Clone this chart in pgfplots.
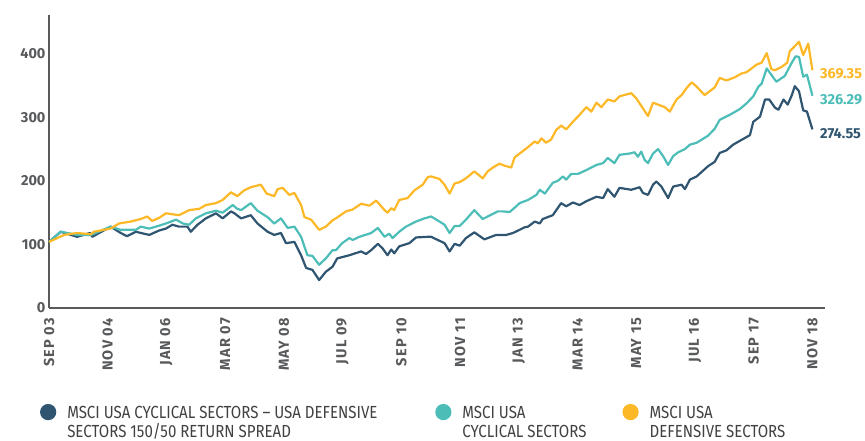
\documentclass[border=0pt]{standalone}
\usepackage{pgfplots}
\pgfplotsset{compat=1.18}
\usepackage{fontspec}
\setmainfont{Fira Sans}
\newfontfamily\legfont[FakeStretch=0.86]{Fira Sans}
\definecolor{cdark}{HTML}{2F5571}
\definecolor{cteal}{HTML}{4DBDB8}
\definecolor{cyellow}{HTML}{FDB827}
\definecolor{axgray}{HTML}{595A5C}
\definecolor{tickgray}{HTML}{58595B}
\definecolor{legtext}{HTML}{414042}
\begin{document}
\begin{tikzpicture}
\path (0pt,0pt) rectangle (865pt,441pt);
\begin{axis}[
  at={(49pt,133pt)}, anchor=south west,
  scale only axis, width=776pt, height=293pt,
  xmin=0, xmax=185, ymin=0, ymax=461,
  axis x line=bottom, axis y line=left,
  axis line style={-, line width=1.8pt, color=axgray},
  xtick={0,14,...,182},
  xticklabels={SEP 03,NOV 04,JAN 06,MAR 07,MAY 08,JUL 09,SEP 10,NOV 11,JAN 13,MAR 14,MAY 15,JUL 16,SEP 17,NOV 18},
  ytick={0,100,...,400},
  major tick length=0pt,
  /pgf/number format/assume math mode=true,
  tick label style={font=\fontsize{14.5}{16}\selectfont\bfseries, text=tickgray},
  x tick label style={rotate=90, anchor=east, inner xsep=10pt, font=\fontsize{14.5}{16}\selectfont\bfseries\addfontfeatures{LetterSpace=8}},
  clip=false,
  legend columns=3,
  legend image code/.code={\fill (7pt,6pt) circle (7pt);},
  legend style={at={(axis description cs:-0.0115,-0.327)}, anchor=north west, draw=none, fill=none, inner sep=0pt, outer sep=0pt,
    font=\legfont\fontsize{17.5}{19.5}\selectfont, text=legtext,
    cells={anchor=base west, inner sep=0pt},
    /tikz/every odd column/.append style={column sep=9pt},
    /tikz/every even column/.append style={column sep=0pt}},
]
\addplot[color=cdark, line width=2.2pt, line join=round] coordinates {
(0,104) (2.8,120) (6.7,112) (9.8,118) (10.3,112) (14.7,128) (17.1,118) (18.6,113) (20.7,120) (21.9,118) (23.9,115) (26.3,122) (27.9,125) (29.4,131) (31,128) (33,128) (33.8,120) (35.4,131) (37.4,141) (39.8,149) (41.4,141) (43.4,152) (44.2,149) (45.8,141) (48.1,146) (49.7,133) (52.1,120) (53.7,115) (55.3,118) (56.5,102) (58.5,104) (60.1,83) (61.3,63) (62.8,60) (64.4,44) (66,57) (67.6,65) (68.7,78) (71.6,83) (74.4,89) (75.6,85) (76.8,91) (78.4,101) (79.5,94) (80.7,83) (81.6,92) (82.3,86) (83.5,97) (85.9,102) (87.5,111) (90.3,112) (91.1,112) (94.3,102) (95.5,89) (96.7,101) (97.9,98) (99.4,110) (101.4,119) (103.8,108) (106.6,115) (109,115) (110.6,118) (112.2,123) (113.4,127) (114.2,128) (115.8,136) (117,133) (117.7,140) (120.1,146) (122.1,165) (123.3,160) (124.9,166) (126.5,162) (128.1,168) (130.5,175) (132.1,173) (133.2,187) (134.8,175) (136,189) (138.8,186) (140.8,190) (141.6,181) (142.8,178) (144,194) (144.8,199) (146,191) (147.6,173) (148.8,191) (150.8,194) (151.6,187) (152.8,202) (154.4,207) (157.1,223) (158.7,230) (159.9,244) (161.5,248) (163.1,257) (165.5,266) (167.1,272) (167.9,293) (169.5,301) (170.7,328) (171.7,328) (173.1,315) (173.9,312) (175.1,328) (176.1,320) (177.1,335) (177.8,349) (178.8,341) (179.8,311) (180.7,309) (182,281)
};
\addlegendentry{\parbox[t]{366pt}{MSCI USA CYCLICAL SECTORS – USA DEFENSIVE\\SECTORS 150/50 RETURN SPREAD}}
\addplot[color=cteal, line width=2.2pt, line join=round] coordinates {
(0,104) (2.8,120) (6.7,115) (10,115) (14.7,128) (17.1,123) (20.7,123) (21.9,128) (23.9,125) (25.5,128) (27.9,133) (30.3,139) (31.9,133) (33.4,131) (35,141) (37.4,149) (39.8,153) (41.4,150) (43.8,162) (44.9,156) (45.8,154) (48.1,165) (49.7,153) (52.1,143) (53.7,133) (55.3,141) (56.9,126) (58.5,128) (60.1,112) (61.6,83) (62.8,82) (64.4,68) (66,78) (67.6,91) (68.4,91) (69.9,102) (71.6,110) (72.4,107) (74,112) (76.8,118) (78.4,126) (80,112) (81.1,117) (81.9,110) (83.5,120) (85.1,128) (87.5,136) (89.5,141) (91.1,144) (93.1,136) (94.3,131) (95.5,118) (96.7,129) (97.9,129) (99.4,139) (101.4,154) (103.4,140) (104.6,144) (107,152) (108.2,152) (109.8,151) (111.4,160) (112.2,165) (114.2,170) (116.2,178) (117,186) (118.2,180) (120.1,197) (121.3,200) (122.5,207) (123.3,202) (124.5,211) (126.1,211) (128.1,217) (130.5,225) (132.1,228) (133.2,236) (134.8,228) (136,241) (138.4,243) (139.6,245) (140.4,238) (141.2,246) (142,233) (142.8,228) (144,243) (145.2,250) (146.4,239) (147.6,225) (148.8,239) (150,245) (151.6,250) (152.8,257) (154.4,260) (157.1,271) (158.7,282) (159.9,296) (162.3,304) (164.7,313) (166.3,322) (167.9,333) (169.1,348) (169.9,353) (171.1,377) (172.2,367) (173.4,356) (175.4,365) (177,385) (178,396) (178.8,395) (179.8,364) (180.7,367) (182,334)
};
\addlegendentry{\parbox[t]{158pt}{MSCI USA\\CYCLICAL SECTORS}}
\addplot[color=cyellow, line width=2.2pt, line join=round] coordinates {
(0,104) (3.6,115) (6.7,118) (10,116) (10.7,120) (13.1,123) (14.7,125) (16.7,133) (19.5,136) (21.9,140) (23.4,144) (24.6,137) (26.3,142) (27.9,149) (31,146) (33.4,154) (35.8,156) (37.4,162) (39.8,165) (41.4,170) (43.4,182) (44.9,176) (46.5,185) (48.1,190) (50.5,194) (51.9,180) (53.7,176) (54.5,187) (55.7,189) (57.3,178) (58.5,181) (60.1,162) (60.9,143) (62.5,139) (64.4,123) (66,128) (67.6,138) (68.4,141) (70.8,152) (72.4,155) (74.4,164) (76.4,161) (78,169) (80,154) (80.7,150) (81.6,157) (82.3,154) (83.5,170) (85.5,173) (87.1,185) (89.1,194) (90.3,206) (91.1,207) (93.1,203) (94.3,194) (95.5,180) (96.7,196) (97.9,198) (99.4,204) (101.4,215) (103.4,204) (104.6,215) (105.8,221) (107.4,227) (108.6,224) (110.2,221) (111,237) (112.2,243) (113.8,251) (115.8,262) (116.5,259) (117.4,267) (118.5,260) (119.7,265) (120.9,280) (122.1,287) (123.3,281) (124.9,293) (126.5,304) (128.1,316) (129.3,309) (130.5,323) (131.7,316) (133.2,328) (134.8,325) (136,333) (138.8,338) (140,330) (141.6,314) (142.8,302) (144,323) (146.8,316) (148,309) (149.6,328) (150.8,335) (152,346) (153.2,355) (154.3,349) (156.3,335) (157.5,341) (158.7,347) (159.9,362) (161.5,358) (163.5,363) (165.1,369) (166.3,371) (167.1,375) (168.7,383) (169.9,386) (171.1,401) (172.2,376) (173,374) (174.6,379) (176,386) (176.6,404) (177.8,412) (178.8,419) (179.8,398) (181,416) (182,374)
};
\addlegendentry{\parbox[t]{150pt}{MSCI USA\\DEFENSIVE SECTORS}}
\node[anchor=west, inner sep=0pt, text=cyellow, font=\fontsize{14.5}{16}\selectfont\bfseries] at (axis cs:183.8,368.5) {369.35};
\node[anchor=west, inner sep=0pt, text=cteal, font=\fontsize{14.5}{16}\selectfont\bfseries] at (axis cs:183.8,327.6) {326.29};
\node[anchor=west, inner sep=0pt, text=cdark, font=\fontsize{14.5}{16}\selectfont\bfseries] at (axis cs:183.8,274) {274.55};
\end{axis}
\end{tikzpicture}
\end{document}
